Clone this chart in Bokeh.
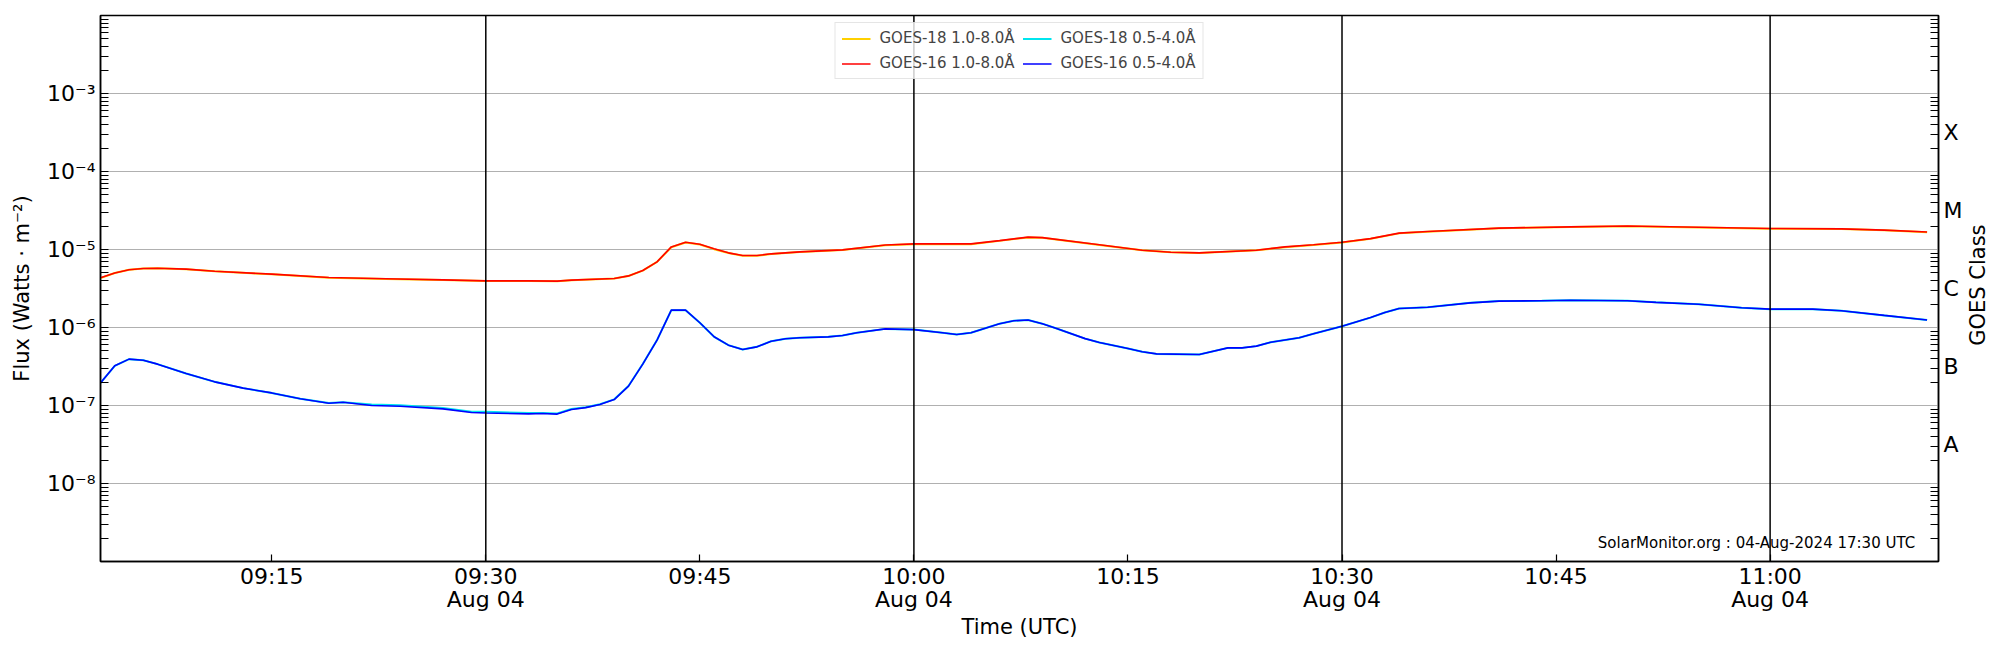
import math
import pandas as pd
from bokeh.plotting import figure
from bokeh.layouts import row
from bokeh.models import (Range1d, LogAxis, FixedTicker, CustomJSTickFormatter, Span,
                          Legend, LegendItem, Label, ColumnDataSource)
from bokeh.embed import file_html
from bokeh.resources import INLINE

# ---------------- data ----------------
long_times = ["09:03", "09:04", "09:05", "09:06", "09:07", "09:09", "09:11", "09:15", "09:19",
              "09:23", "09:27", "09:30", "09:33", "09:35", "09:36", "09:39", "09:40", "09:41",
              "09:42", "09:43", "09:44", "09:45", "09:46", "09:47", "09:48", "09:49", "09:50",
              "09:52", "09:55", "09:58", "10:00", "10:04", "10:06", "10:08", "10:09", "10:13",
              "10:16", "10:18", "10:20", "10:24", "10:26", "10:28", "10:30", "10:32", "10:34",
              "10:36", "10:41", "10:46", "10:50", "10:55", "11:00", "11:05", "11:08", "11:11"]
goes16_long = [4.33e-6, 5.0e-6, 5.5e-6, 5.7e-6, 5.76e-6, 5.6e-6, 5.27e-6, 4.83e-6, 4.37e-6,
               4.21e-6, 4.08e-6, 3.96e-6, 3.96e-6, 3.93e-6, 4.05e-6, 4.25e-6, 4.59e-6, 5.38e-6,
               6.95e-6, 1.08e-5, 1.24e-5, 1.17e-5, 1.02e-5, 9.06e-6, 8.37e-6, 8.37e-6, 8.8e-6,
               9.33e-6, 9.9e-6, 1.14e-5, 1.18e-5, 1.18e-5, 1.30e-5, 1.44e-5, 1.42e-5, 1.15e-5,
               9.8e-6, 9.24e-6, 9.06e-6, 9.8e-6, 1.08e-5, 1.15e-5, 1.24e-5, 1.38e-5, 1.62e-5,
               1.70e-5, 1.88e-5, 1.95e-5, 2.0e-5, 1.93e-5, 1.86e-5, 1.84e-5, 1.77e-5, 1.68e-5]
# GOES-18 long channel lies under the GOES-16 curve in the picture
goes18_long = [4.30e-6, 5.0e-6, 5.5e-6, 5.7e-6, 5.76e-6, 5.6e-6, 5.25e-6, 4.80e-6, 4.35e-6,
               4.20e-6, 4.07e-6, 3.95e-6, 3.95e-6, 3.92e-6, 4.04e-6, 4.24e-6, 4.58e-6, 5.36e-6,
               6.93e-6, 1.07e-5, 1.23e-5, 1.16e-5, 1.01e-5, 9.0e-6, 8.3e-6, 8.3e-6, 8.75e-6,
               9.3e-6, 9.85e-6, 1.13e-5, 1.17e-5, 1.17e-5, 1.29e-5, 1.43e-5, 1.41e-5, 1.14e-5,
               9.75e-6, 9.2e-6, 9.0e-6, 9.75e-6, 1.07e-5, 1.14e-5, 1.23e-5, 1.37e-5, 1.61e-5,
               1.69e-5, 1.87e-5, 1.94e-5, 1.99e-5, 1.92e-5, 1.85e-5, 1.83e-5, 1.76e-5, 1.67e-5]

short_times = ["09:03", "09:04", "09:05", "09:06", "09:07", "09:09", "09:11", "09:13", "09:15",
               "09:17", "09:19", "09:20", "09:22", "09:24", "09:27", "09:29", "09:30", "09:33",
               "09:34", "09:35", "09:36", "09:37", "09:38", "09:39", "09:40", "09:41", "09:42",
               "09:43", "09:44", "09:45", "09:46", "09:47", "09:48", "09:49", "09:50", "09:51",
               "09:52", "09:54", "09:55", "09:56", "09:58", "10:00", "10:02", "10:03", "10:04",
               "10:05", "10:06", "10:07", "10:08", "10:09", "10:10", "10:12", "10:13", "10:15",
               "10:16", "10:17", "10:20", "10:22", "10:23", "10:24", "10:25", "10:27", "10:28",
               "10:30", "10:32", "10:33", "10:34", "10:36", "10:39", "10:41", "10:44", "10:46",
               "10:50", "10:52", "10:55", "10:58", "11:00", "11:03", "11:05", "11:08", "11:11"]
goes16_short = [1.95e-7, 3.23e-7, 3.93e-7, 3.81e-7, 3.39e-7, 2.57e-7, 2.01e-7, 1.67e-7, 1.45e-7,
                1.22e-7, 1.07e-7, 1.10e-7, 1.0e-7, 9.8e-8, 9.06e-8, 8.13e-8, 8.0e-8, 7.8e-8,
                7.9e-8, 7.76e-8, 8.9e-8, 9.4e-8, 1.03e-7, 1.19e-7, 1.77e-7, 3.39e-7, 6.9e-7,
                1.67e-6, 1.67e-6, 1.15e-6, 7.6e-7, 5.94e-7, 5.22e-7, 5.65e-7, 6.68e-7, 7.16e-7,
                7.38e-7, 7.59e-7, 7.89e-7, 8.55e-7, 9.6e-7, 9.4e-7, 8.55e-7, 8.13e-7, 8.55e-7,
                9.8e-7, 1.12e-6, 1.22e-6, 1.25e-6, 1.12e-6, 9.7e-7, 7.2e-7, 6.43e-7, 5.38e-7,
                4.88e-7, 4.59e-7, 4.5e-7, 5.48e-7, 5.48e-7, 5.77e-7, 6.48e-7, 7.38e-7, 8.3e-7,
                1.04e-6, 1.34e-6, 1.56e-6, 1.75e-6, 1.82e-6, 2.07e-6, 2.18e-6, 2.2e-6, 2.24e-6,
                2.2e-6, 2.1e-6, 1.99e-6, 1.79e-6, 1.72e-6, 1.72e-6, 1.64e-6, 1.43e-6, 1.25e-6]
goes18_short = [1.95e-7, 3.23e-7, 3.93e-7, 3.81e-7, 3.39e-7, 2.57e-7, 2.01e-7, 1.67e-7, 1.45e-7,
                1.22e-7, 1.08e-7, 1.10e-7, 1.03e-7, 1.01e-7, 9.3e-8, 8.3e-8, 8.3e-8, 8.0e-8,
                8.0e-8, 7.9e-8, 9.0e-8, 9.5e-8, 1.04e-7, 1.2e-7, 1.78e-7, 3.4e-7, 6.9e-7,
                1.67e-6, 1.67e-6, 1.15e-6, 7.6e-7, 5.94e-7, 5.22e-7, 5.65e-7, 6.68e-7, 7.16e-7,
                7.38e-7, 7.59e-7, 7.89e-7, 8.55e-7, 9.6e-7, 9.4e-7, 8.55e-7, 8.13e-7, 8.55e-7,
                9.8e-7, 1.12e-6, 1.22e-6, 1.25e-6, 1.12e-6, 9.7e-7, 7.2e-7, 6.43e-7, 5.38e-7,
                4.88e-7, 4.59e-7, 4.5e-7, 5.48e-7, 5.48e-7, 5.77e-7, 6.48e-7, 7.38e-7, 8.3e-7,
                1.04e-6, 1.34e-6, 1.56e-6, 1.75e-6, 1.82e-6, 2.07e-6, 2.18e-6, 2.2e-6, 2.24e-6,
                2.2e-6, 2.1e-6, 1.99e-6, 1.79e-6, 1.72e-6, 1.72e-6, 1.64e-6, 1.43e-6, 1.25e-6]

day = "2024-08-04"
x_start, x_end = "09:03:00", "11:11:48"
x_ticks = ["09:15", "09:30", "09:45", "10:00", "10:15", "10:30", "10:45", "11:00"]
x_lines = ["09:30", "10:00", "10:30", "11:00"]
decades = [1e-8, 1e-7, 1e-6, 1e-5, 1e-4, 1e-3]
class_labels = ["A", "B", "C", "M", "X"]
class_pos = [10 ** -7.5, 10 ** -6.5, 10 ** -5.5, 10 ** -4.5, 10 ** -3.5]
class_title = "GOES Class"
stamp = "SolarMonitor.org : 04-Aug-2024 17:30 UTC"

FONT = "DejaVu Sans"


def ts(hhmm):
    return pd.Timestamp(f"{day} {hhmm}")


def ms(hhmm):
    return ts(hhmm).value / 1e6


minor = [k * 10.0 ** e for e in range(-9, -2) for k in range(2, 10)]

p = figure(width=1965, height=650, x_axis_type="datetime", y_axis_type="log",
           x_range=Range1d(ts(x_start), ts(x_end)), y_range=Range1d(1e-9, 1e-2),
           output_backend="svg", toolbar_location=None,
           min_border_left=100, min_border_right=25, min_border_top=15, min_border_bottom=89)
p.background_fill_color = "white"
p.border_fill_color = "white"
p.outline_line_color = "black"
p.outline_line_width = 1.5

# grid
p.xgrid.visible = False
p.ygrid.ticker = FixedTicker(ticks=decades)
p.ygrid.grid_line_color = "#b0b0b0"
p.ygrid.grid_line_width = 1.2

# x axis
xa = p.xaxis[0]
xa.ticker = FixedTicker(ticks=[ms(t) for t in x_ticks], minor_ticks=[])
xa.formatter = CustomJSTickFormatter(code="""
const d = new Date(tick);
const h = String(d.getUTCHours()).padStart(2, '0');
const m = String(d.getUTCMinutes()).padStart(2, '0');
const s = h + ':' + m;
return (d.getUTCMinutes() % 30 == 0) ? s + '\\nAug 04' : s;
""")
xa.major_tick_in = 7
xa.major_tick_out = 0
xa.minor_tick_in = 0
xa.minor_tick_out = 0
xa.major_label_standoff = 2
xa.major_label_text_line_height = 0.95
xa.axis_label = "Time (UTC)"
xa.axis_label_standoff = 0

# left y axis
ya = p.yaxis[0]
ya.ticker = FixedTicker(ticks=decades, minor_ticks=minor)
ya.formatter = CustomJSTickFormatter(code="""
const e = Math.round(Math.log10(tick));
const sup = {'-': '\\u207B', '0': '\\u2070', '1': '\\u00B9', '2': '\\u00B2', '3': '\\u00B3',
             '4': '\\u2074', '5': '\\u2075', '6': '\\u2076', '7': '\\u2077', '8': '\\u2078', '9': '\\u2079'};
return '10' + String(e).split('').map(c => sup[c]).join('');
""")
ya.major_tick_in = 8
ya.major_tick_out = 0
ya.minor_tick_in = 8
ya.minor_tick_out = 0
ya.major_label_standoff = 5
ya.axis_label = "Flux (Watts \u00b7 m\u207b\u00b2)"
ya.axis_label_standoff = 10

# right class axis
ra = LogAxis(ticker=FixedTicker(ticks=class_pos, minor_ticks=minor),
             formatter=CustomJSTickFormatter(args=dict(labels=class_labels), code="""
const k = Math.round((Math.log10(tick) + 7.5));
return labels[k];
"""))
ra.major_tick_in = 0
ra.major_tick_out = 0
ra.minor_tick_in = 8
ra.minor_tick_out = 0
ra.major_label_standoff = 5
p.add_layout(ra, "right")

for ax in [xa, ya, ra]:
    ax.axis_line_color = "black"
    ax.axis_line_width = 1.5
    ax.major_tick_line_color = "black"
    ax.minor_tick_line_color = "black"
    ax.major_tick_line_width = 1.2
    ax.minor_tick_line_width = 1.2
    ax.major_label_text_font = FONT
    ax.major_label_text_font_size = "22px"
    ax.major_label_text_color = "black"
    ax.axis_label_text_font = FONT
    ax.axis_label_text_font_size = "21px"
    ax.axis_label_text_font_style = "normal"
    ax.axis_label_text_color = "black"

# vertical lines at half hours
for t in x_lines:
    p.add_layout(Span(location=ms(t), dimension="height", line_color="black", line_width=1.5))

# data
src18l = ColumnDataSource(dict(t=[ts(t) for t in long_times], f=goes18_long))
src16l = ColumnDataSource(dict(t=[ts(t) for t in long_times], f=goes16_long))
src18s = ColumnDataSource(dict(t=[ts(t) for t in short_times], f=goes18_short))
src16s = ColumnDataSource(dict(t=[ts(t) for t in short_times], f=goes16_short))

r18l = p.line("t", "f", source=src18l, line_color="#ffd000", line_width=2)
r18s = p.line("t", "f", source=src18s, line_color="#00e5ee", line_width=2)
r16l = p.line("t", "f", source=src16l, line_color="#ff0000", line_width=1.6)
r16s = p.line("t", "f", source=src16s, line_color="#0000ff", line_width=1.6)

legend = Legend(items=[LegendItem(label="GOES-18 1.0-8.0\u00c5", renderers=[r18l]),
                       LegendItem(label="GOES-16 1.0-8.0\u00c5", renderers=[r16l]),
                       LegendItem(label="GOES-18 0.5-4.0\u00c5", renderers=[r18s]),
                       LegendItem(label="GOES-16 0.5-4.0\u00c5", renderers=[r16s])],
                location="top_center", orientation="vertical", ncols=2)
legend.label_text_font = FONT
legend.label_text_font_size = "15px"
legend.glyph_width = 29
legend.glyph_height = 17
legend.label_height = 17
legend.label_width = 136
legend.label_standoff = 9
legend.spacing = 7
legend.padding = 6
legend.margin = 7
legend.border_line_color = "#cccccc"
legend.border_line_width = 1
legend.background_fill_color = "white"
legend.background_fill_alpha = 0.8
p.add_layout(legend)

p.add_layout(Label(x=ms("11:10:10"), y=10 ** -8.765, text=stamp, text_align="right",
                   text_baseline="middle", text_font=FONT, text_font_size="15px",
                   text_color="black"))

# narrow side strip holding the class-axis title (reads bottom-to-top)
side = figure(width=35, height=650, x_range=Range1d(0, 35), y_range=Range1d(0, 650),
              output_backend="svg", toolbar_location=None, min_border=0)
side.axis.visible = False
side.grid.visible = False
side.outline_line_color = None
side.background_fill_color = "white"
side.border_fill_color = "white"
side.add_layout(Label(x=12.5, y=329, text=class_title, angle=math.pi / 2,
                      text_align="center", text_baseline="middle", text_font=FONT,
                      text_font_size="21px", text_color="black"))

layout = row(p, side, spacing=0)
open("out.html", "w", encoding="utf-8").write(file_html(layout, INLINE))
